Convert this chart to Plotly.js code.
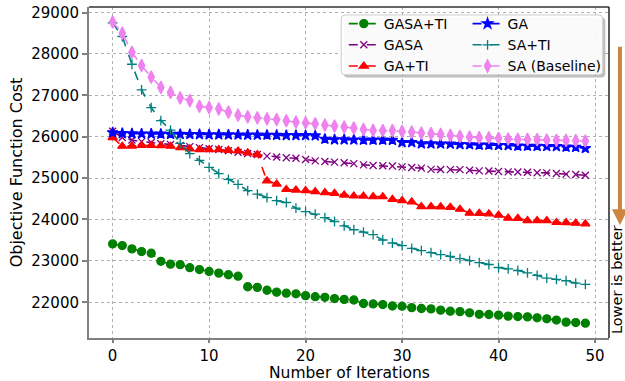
<!DOCTYPE html>
<html>
<head>
<meta charset="utf-8">
<script src="https://cdn.plot.ly/plotly-3.0.1.min.js"></script>
<style>
  html, body { margin: 0; padding: 0; background: #fff; }
  #myPlot { width: 625px; height: 381px; }
</style>
</head>
<body>
<div id="myPlot"></div>
<script>
// iterations 0..49
var iterations = [];
for (var i = 0; i < 50; i++) iterations.push(i);

// values
var gasaTi = [23410, 23370, 23290, 23225, 23185, 22990, 22920, 22910, 22835, 22790,
    22745, 22705, 22665, 22630, 22375, 22360, 22290, 22245, 22220, 22205,
    22160, 22135, 22120, 22090, 22070, 22055, 21970, 21960, 21945, 21910,
    21905, 21870, 21850, 21840, 21810, 21785, 21775, 21745, 21710, 21705,
    21690, 21665, 21655, 21648, 21625, 21600, 21570, 21520, 21510, 21495];
var gasa = [26130, 25980, 25920, 25880, 25860, 25830, 25810, 25790, 25760, 25735,
    25710, 25690, 25660, 25625, 25595, 25570, 25530, 25510, 25490, 25480,
    25450, 25415, 25400, 25385, 25370, 25350, 25320, 25305, 25300, 25290,
    25270, 25255, 25240, 25210, 25208, 25205, 25205, 25190, 25175, 25170,
    25160, 25150, 25148, 25142, 25128, 25125, 25110, 25095, 25088, 25070];
var gaTi = [25980, 25770, 25775, 25790, 25790, 25785, 25770, 25735, 25705, 25690,
    25690, 25688, 25672, 25655, 25610, 25570, 24935, 24855, 24725, 24712,
    24696, 24672, 24648, 24632, 24592, 24568, 24565, 24552, 24550, 24488,
    24456, 24424, 24312, 24310, 24308, 24296, 24248, 24152, 24150, 24136,
    24104, 24032, 24030, 23976, 23974, 23972, 23928, 23925, 23912, 23896];
var ga = [26100, 26080, 26075, 26070, 26068, 26065, 26062, 26060, 26058, 26055,
    26050, 26050, 26048, 26046, 26044, 26042, 26040, 26038, 26032, 26032,
    26030, 26024, 25944, 25930, 25930, 25925, 25920, 25920, 25920, 25918,
    25864, 25864, 25832, 25830, 25828, 25825, 25815, 25810, 25800, 25800,
    25792, 25790, 25776, 25775, 25772, 25768, 25765, 25752, 25748, 25720];
var saTi = [28750, 28420, 27750, 27130, 26700, 26390, 26160, 25840, 25590, 25430,
    25260, 25110, 24970, 24850, 24695, 24615, 24530, 24455, 24410, 24272,
    24191, 24128, 24047, 23951, 23848, 23752, 23696, 23632, 23504, 23432,
    23368, 23303, 23248, 23200, 23152, 23111, 23056, 23008, 22960, 22912,
    22840, 22808, 22768, 22712, 22648, 22584, 22552, 22520, 22464, 22432];
var saBase = [28770, 28500, 28040, 27720, 27440, 27190, 27070, 26936, 26872, 26736,
    26704, 26672, 26592, 26520, 26480, 26456, 26432, 26415, 26385, 26352,
    26336, 26312, 26280, 26256, 26232, 26208, 26176, 26152, 26150, 26148,
    26128, 26112, 26088, 26072, 26056, 26032, 26008, 25992, 25976, 25974,
    25960, 25944, 25936, 25934, 25928, 25920, 25912, 25910, 25904, 25896];

var font = "DejaVu Sans, Arial, sans-serif";

function series(name, y, color, symbol, size, legend, rank) {
    return {
        x: iterations, y: y, name: name, type: "scatter", mode: "lines+markers",
        line: { color: color, width: 1.6, dash: "dash" },
        marker: { color: color, symbol: symbol, size: size, line: { color: color, width: 1.3 } },
        legend: legend, legendrank: rank
    };
}

var data = [
    series("GASA+TI", gasaTi, "#008000", "circle", 8, "legend", 1),
    series("GASA", gasa, "#800080", "x-thin", 7, "legend", 2),
    series("GA+TI", gaTi, "#ff0000", "triangle-up", 8, "legend", 3),
    series("GA", ga, "#0000ff", "star", 8, "legend2", 4),
    series("SA+TI", saTi, "#008080", "cross-thin", 7, "legend2", 5),
    series("SA (Baseline)", saBase, "#ee82ee", "diamond-tall", 9, "legend2", 6)
];

// legend frame (rounded) in paper coordinates
var bx0 = 0.485, bx1 = 0.988, by0 = 0.795, by1 = 0.976;
var rx = 4 / 520, ry = 4 / 331;
function roundRect(x0, y0, x1, y1) {
    return "M" + (x0 + rx) + "," + y1 + " L" + (x1 - rx) + "," + y1 +
        " Q" + x1 + "," + y1 + " " + x1 + "," + (y1 - ry) +
        " L" + x1 + "," + (y0 + ry) + " Q" + x1 + "," + y0 + " " + (x1 - rx) + "," + y0 +
        " L" + (x0 + rx) + "," + y0 + " Q" + x0 + "," + y0 + " " + x0 + "," + (y0 + ry) +
        " L" + x0 + "," + (y1 - ry) + " Q" + x0 + "," + y1 + " " + (x0 + rx) + "," + y1 + " Z";
}

var layout = {
    width: 625, height: 381,
    margin: { l: 89, r: 16, t: 7, b: 43 },
    paper_bgcolor: "#fff", plot_bgcolor: "#fff",
    font: { family: font, size: 15, color: "#000" },
    showlegend: true,
    xaxis: {
        range: [-2.45, 51.45], dtick: 10, tick0: 0,
        ticks: "outside", ticklen: 3, tickcolor: "#808080", tickwidth: 1.5,
        showline: true, linecolor: "#808080", linewidth: 2,
        showgrid: true, gridcolor: "#b0b0b0", griddash: "dot", gridwidth: 1,
        zeroline: false
    },
    yaxis: {
        range: [21137, 29133], dtick: 1000, tick0: 0, tickformat: "d",
        ticks: "outside", ticklen: 5, tickcolor: "#808080", tickwidth: 1.5,
        showline: true, linecolor: "#808080", linewidth: 2,
        showgrid: true, gridcolor: "#b0b0b0", griddash: "dot", gridwidth: 1,
        zeroline: false,
        title: { text: "Objective Function Cost", font: { size: 16 }, standoff: 5 }
    },
    legend: {
        x: 0.49, y: 0.997, xanchor: "left", yanchor: "top",
        bgcolor: "rgba(0,0,0,0)", borderwidth: 0,
        font: { family: font, size: 14 }, tracegroupgap: 0
    },
    legend2: {
        x: 0.728, y: 0.997, xanchor: "left", yanchor: "top",
        bgcolor: "rgba(0,0,0,0)", borderwidth: 0,
        font: { family: font, size: 14 }, tracegroupgap: 0
    },
    shapes: [
        { type: "line", xref: "paper", yref: "paper", x0: 0, x1: 1, y0: 1, y1: 1,
          line: { color: "#333", width: 1.5 } },
        { type: "line", xref: "paper", yref: "paper", x0: 1, x1: 1, y0: 0, y1: 1,
          line: { color: "#222", width: 1.5 } },
        { type: "path", xref: "paper", yref: "paper", layer: "above",
          path: roundRect(bx0 + 0.005, by0 - 0.008, bx1 + 0.005, by1 - 0.008),
          fillcolor: "rgba(0,0,0,0.25)", line: { width: 0 } },
        { type: "path", xref: "paper", yref: "paper", layer: "above",
          path: roundRect(bx0, by0, bx1, by1),
          fillcolor: "rgba(255,255,255,0.92)", line: { color: "#cccccc", width: 1 } }
    ],
    annotations: [
        // x axis title, placed as in the reference
        { xref: "paper", yref: "paper", x: 0.5, y: -0.106, text: "Number of Iterations",
          xanchor: "center", yanchor: "middle", showarrow: false,
          font: { family: font, size: 15.5, color: "#000" } },
        { xref: "paper", yref: "paper", x: 1.021, y: 0.341, text: "",
          showarrow: true, ax: 0, ay: -180, axref: "pixel", ayref: "pixel",
          arrowhead: 2, arrowsize: 0.8, arrowwidth: 4, arrowcolor: "#cd853f" },
        { xref: "paper", yref: "paper", x: 1.0154, y: 0.175, text: "Lower is better",
          xanchor: "center", yanchor: "middle",
          textangle: -90, showarrow: false, font: { family: font, size: 14.5, color: "#000" } }
    ]
};

Plotly.newPlot("myPlot", data, layout, { displayModeBar: false });
</script>
</body>
</html>
